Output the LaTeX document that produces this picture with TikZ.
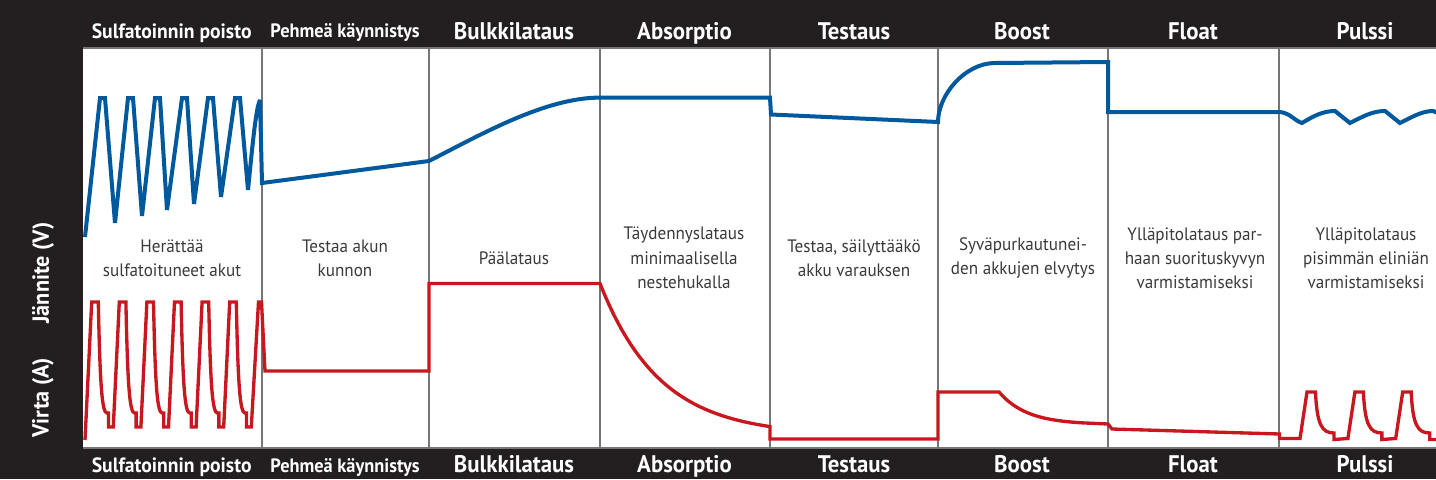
\documentclass[tikz,border=0pt]{standalone}
\usepackage{fontspec}
\setmainfont{PT Sans}
\newfontfamily\hdrfont[FakeStretch=0.95]{PT Sans}
\newfontfamily\bodyfont[FakeStretch=0.95]{PT Sans}
\definecolor{bgdark}{HTML}{231F20}
\definecolor{gridc}{HTML}{767676}
\definecolor{vblue}{HTML}{00589D}
\definecolor{ared}{HTML}{C8171E}
\definecolor{bodytxt}{HTML}{3A3A3A}
\tikzset{
  hdr/.style={text=white, anchor=base, inner sep=0pt, font=\hdrfont\bfseries\fontsize{18}{20}\selectfont},
  hdrsmall/.style={hdr, font=\hdrfont\bfseries\fontsize{15.5}{18}\selectfont},
  hdrtiny/.style={hdr, font=\hdrfont\bfseries\fontsize{14.5}{18}\selectfont},
  desc/.style={text=bodytxt, align=center, inner sep=0pt, font=\bodyfont\fontsize{13.5}{18.2}\selectfont},
  axislbl/.style={text=white, rotate=90, inner sep=0pt, font=\hdrfont\bfseries\fontsize{17.5}{18}\selectfont},
  divider/.style={draw=gridc, line width=1pt},
  vline/.style={draw=vblue, line width=3pt, miter limit=4},
  aline/.style={draw=ared, line width=2.5pt, miter limit=4}
}
\begin{document}
\begin{tikzpicture}[x=0.75pt,y=-0.75pt]
\useasboundingbox (0,0) rectangle (1436,479);
\fill[bgdark] (0,0) rectangle (1436,479);
\fill[white] (83,48) rectangle (1436,448);
\draw[divider] (83,48) -- (1436,48);
\draw[divider] (83,448) -- (1436,448);
\foreach \x in {262,429,600,770,938,1108,1279} {
  \draw[divider] (\x,48) -- (\x,448);
}
% headers top and bottom
\foreach \x/\t/\n in {514/Bulkkilataus/c3,684.5/Absorptio/c4,854/Testaus/c5,1022/Boost/c6,1193/Float/c7,1365/Pulssi/c8} {
  \node[hdr] (top\n) at (\x,39.5) {\t};
  \node[hdr] (bot\n) at (\x,472.5) {\t};
}
\node[hdrsmall] (topc1) at (171.7,38.5) {Sulfatoinnin poisto};
\node[hdrsmall] (botc1) at (171.7,472.5) {Sulfatoinnin poisto};
\node[hdrtiny] (topc2) at (345,37.5) {Pehmeä käynnistys};
\node[hdrtiny] (botc2) at (345,472) {Pehmeä käynnistys};
% axis labels
\node[axislbl] (ylabv) at (43,273) {Jännite (V)};
\node[axislbl] (ylaba) at (43,398) {Virta (A)};
% descriptions
\node[desc] (d1) at (172,258) {Herättää\\sulfatoituneet akut};
\node[desc] (d2) at (345,258) {Testaa akun\\kunnon};
\node[desc] (d3) at (514,258) {Päälataus};
\node[desc] (d4) at (684,258) {Täydennyslataus\\minimaalisella\\nestehukalla};
\node[desc] (d5) at (854,258) {Testaa, säilyttääkö\\akku varauksen};
\node[desc] (d6) at (1023,258) {Syväpurkautunei-\\den akkujen elvytys};
\node[desc] (d7) at (1195,258) {Ylläpitolataus par-\\haan suorituskyvyn\\varmistamiseksi};
\node[desc] (d8) at (1366,258) {Ylläpitolataus\\pisimmän eliniän\\varmistamiseksi};
\begin{scope}
\clip (83,48) rectangle (1436,448);
% voltage curve
\draw[vline] (85,237) -- (100,98) -- (105,98) -- (115,223) -- (128,98) -- (133,98) -- (142,216)
  -- (155,98) -- (160,98) -- (167,210) -- (182,98) -- (187,98) -- (194,204)
  -- (208,98) -- (213,98) -- (221,197) -- (235,98) -- (240,98) -- (248,190)
  .. controls (253,140) and (256,108) .. (260,100) -- (262,183) -- (429,161)
  .. controls (480,135) and (545,97.6) .. (600,97.6) -- (770,97.6) -- (771,114.5) -- (938,122)
  .. controls (938,95) and (965,63) .. (995,63) -- (1108,62) -- (1108,112) -- (1280,112)
  .. controls (1290,113) and (1295,121) .. (1302,123)
  .. controls (1312,117) and (1322,111) .. (1335,111) -- (1350,123)
  .. controls (1362,117) and (1372,111) .. (1385,111) -- (1400,123)
  .. controls (1412,117) and (1422,111) .. (1433,111) -- (1445,116);
% current curve
\draw[aline] (85,440)
  foreach \c in {95,122.6,150.2,177.8,205.4,233} {
    -- ({\c-3.3},302) -- ({\c+3.3},302) .. controls ({\c+5},385) and ({\c+7},413) .. ({\c+12},413)
    -- ({\c+13.5},413) -- ({\c+13.5},427) -- ({\c+18.3},427)
  }
  -- (258.5,302) -- (261.5,302) -- (265,371) -- (429,371) -- (429,283.5) -- (600,283.5)
  -- plot[domain=0:170,samples=40] ({600+\x},{283.5+152*(1-exp(-\x/60))})
  -- (770,439) -- (938,439) -- (938,392) -- (999,392)
  -- plot[domain=0:85,samples=25] ({999+\x},{392+32.5*(1-exp(-\x/28))})
  -- (1108,424) -- (1112,429) -- (1279.5,434) -- (1279.5,438.5)
  foreach \b in {1300,1347.9,1395.7} {
    -- (\b,438.5) -- ({\b+7},392) -- ({\b+15.5},392) .. controls ({\b+17},425) and ({\b+22},433) .. ({\b+34},433)
    -- ({\b+34},439.5)
  }
  -- (1445,439.5);
\end{scope}
\end{tikzpicture}
\end{document}
